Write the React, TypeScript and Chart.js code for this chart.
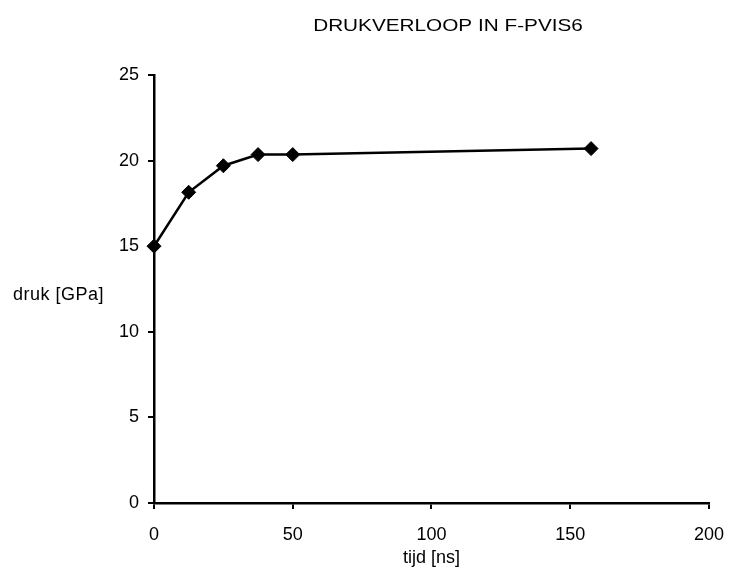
import React, { useEffect, useRef } from "react";
import { Chart, registerables } from "chart.js";

Chart.register(...registerables);

const chartTitle = "DRUKVERLOOP IN F-PVIS6";
const xAxisTitle = "tijd [ns]";
const yAxisTitle = "druk [GPa]";
const timeNs = [0, 12.5, 25, 37.5, 50, 157.5];
const pressureGPa = [15, 18.15, 19.7, 20.35, 20.35, 20.7];
const xTickMin = 0;
const xTickMax = 200;
const xTickStep = 50;
const yTickMin = 0;
const yTickMax = 25;
const yTickStep = 5;

const FONT = "'Liberation Sans', Arial, Helvetica, sans-serif";

const textPlugin = {
  id: "customTexts",
  afterDraw(chart: any) {
    const ctx = chart.ctx as CanvasRenderingContext2D;
    ctx.save();
    ctx.fillStyle = "#000";
    // title, slightly widened like the scanned original
    ctx.font = `17px ${FONT}`;
    ctx.textAlign = "center";
    ctx.textBaseline = "middle";
    ctx.save();
    ctx.translate(448, 26);
    ctx.scale(1.22, 1);
    ctx.fillText(chartTitle, 0, 0);
    ctx.restore();
    // y axis title (horizontal, left)
    (ctx as any).letterSpacing = "0.5px";
    ctx.font = `18px ${FONT}`;
    ctx.textAlign = "left";
    ctx.fillText(yAxisTitle, 13, 295);
    ctx.restore();
  },
};

export default function App() {
  const ref = useRef<HTMLCanvasElement | null>(null);
  useEffect(() => {
    if (!ref.current) return;
    const points = timeNs.map((x, i) => ({ x, y: pressureGPa[i] }));
    const chart = new Chart(ref.current, {
      type: "scatter",
      data: {
        datasets: [
          {
            data: points,
            showLine: true,
            clip: false,
            borderColor: "#000",
            backgroundColor: "#000",
            borderWidth: 2.5,
            pointStyle: "rectRot",
            pointRadius: 7,
            pointHoverRadius: 7,
            pointBackgroundColor: "#000",
            pointBorderColor: "#000",
            pointBorderWidth: 1,
          },
        ],
      },
      plugins: [textPlugin],
      options: {
        animation: false,
        responsive: false,
        events: [],
        layout: { padding: { top: 75, right: 22, bottom: 0, left: 0 } },
        plugins: {
          legend: { display: false },
          title: { display: false },
          tooltip: { enabled: false },
        },
        scales: {
          x: {
            type: "linear",
            min: xTickMin,
            max: xTickMax,
            ticks: {
              stepSize: xTickStep,
              color: "#000",
              padding: 15,
              font: { family: FONT, size: 18 },
              maxRotation: 0,
            },
            grid: {
              drawOnChartArea: false,
              drawTicks: true,
              tickLength: 6,
              color: "#000",
              lineWidth: 2,
            },
            border: { display: true, color: "#000", width: 2.5 },
            title: {
              display: true,
              text: xAxisTitle,
              color: "#000",
              font: { family: FONT, size: 18 },
              padding: { top: 0, bottom: 1 },
            },
            afterFit: (scale: any) => {
              scale.height = 67;
            },
          },
          y: {
            type: "linear",
            min: yTickMin,
            max: yTickMax,
            ticks: {
              stepSize: yTickStep,
              color: "#000",
              padding: 9,
              font: { family: FONT, size: 18 },
            },
            grid: {
              drawOnChartArea: false,
              drawTicks: true,
              tickLength: 6,
              color: "#000",
              lineWidth: 2,
            },
            border: { display: true, color: "#000", width: 2.5 },
            afterFit: (scale: any) => {
              scale.width = 154;
            },
          },
        },
      },
    });
    return () => chart.destroy();
  }, []);
  return (
    <div style={{ position: "absolute", left: 0, top: 0, width: 739, height: 570, background: "#fff" }}>
      <canvas ref={ref} width={739} height={570} style={{ display: "block" }} />
    </div>
  );
}
